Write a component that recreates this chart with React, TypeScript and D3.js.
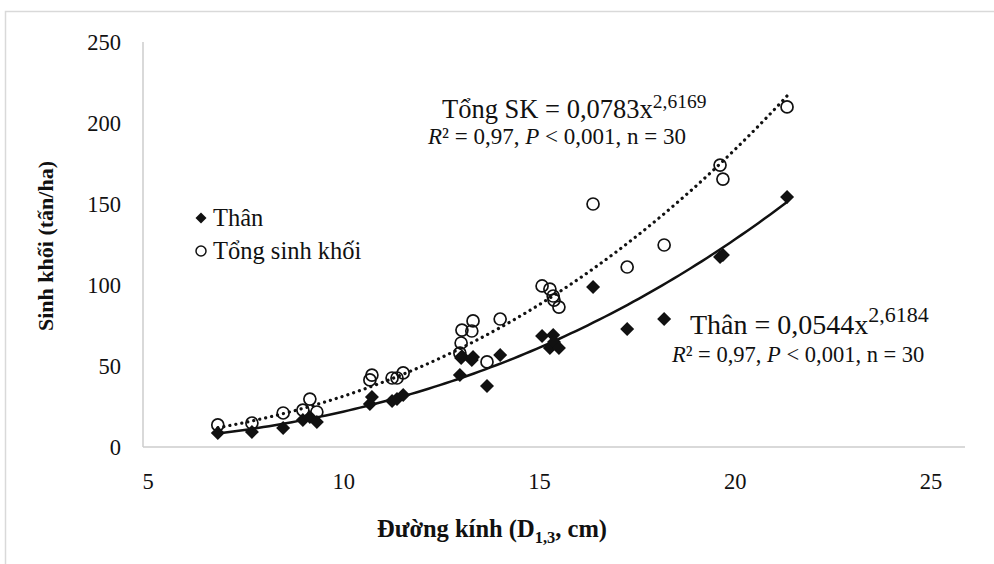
import React from 'react';
import * as d3 from 'd3';

// Đường kính D1,3 (cm) of each plot
const diameters = [
  6.82, 7.65, 8.41, 8.89, 9.06, 9.23, 10.52, 10.57, 11.06, 11.18, 11.33,
  12.71, 12.74, 12.76, 13.0, 13.03, 13.37, 13.69, 14.71, 14.9, 14.98, 15.0,
  15.12, 15.95, 16.78, 17.68, 19.04, 19.11, 20.67,
];

// Sinh khối thân (tấn/ha)
const thanValues = [
  8.6, 9.3, 11.7, 16.7, 18.5, 15.4, 26.5, 30.9, 28.4, 29.6, 32.1,
  44.4, 54.9, 56.0, 53.7, 55.6, 37.7, 56.8, 68.5, 61.1, 69.1, 64.8,
  61.1, 98.8, 72.8, 79.0, 117.3, 118.5, 154.3,
];

// Tổng sinh khối (tấn/ha)
const tongValues = [
  13.6, 14.8, 21.0, 22.8, 29.6, 21.6, 41.4, 44.4, 42.6, 42.6, 45.7,
  58.0, 64.2, 72.2, 71.6, 77.8, 52.5, 79.0, 99.4, 97.5, 93.2, 90.7,
  86.4, 150.0, 111.1, 124.7, 174.0, 165.4, 209.9,
];

const xTicks = [5, 10, 15, 20, 25];
const yTicks = [0, 50, 100, 150, 200, 250];

// power trendlines  y = a * x^b
const thanFit = { a: 0.0544, b: 2.6184 };
const tongFit = { a: 0.0783, b: 2.6169 };

const font = '"Liberation Serif", "Times New Roman", serif';

const diamondPath = (h: number) => `M0,${-h}L${h},0L0,${h}L${-h},0Z`;

export default function App() {
  const width = 994;
  const height = 564;

  // plot area: axis line runs 143..965, 0..250 from 447 up to 42
  const x = d3.scaleLinear().domain([5, 25]).range([143, 965]);
  const y = d3.scaleLinear().domain([0, 250]).range([447, 42]);
  // tick labels sit a bit off the ticks in the original picture
  const xLabel = d3.scaleLinear().domain([5, 25]).range([148, 931]);

  const xMin = d3.min(diameters)!;
  const xMax = d3.max(diameters)!;
  const curveX = d3.range(0, 101).map(i => xMin + (xMax - xMin) * i / 100);

  const line = d3.line<number>().x(d => x(d));

  const thanPath = line.y(d => y(thanFit.a * Math.pow(d, thanFit.b)))(curveX) ?? '';
  const tongPath = line.y(d => y(tongFit.a * Math.pow(d, tongFit.b)))(curveX) ?? '';

  return (
    <svg
      width={width}
      height={height}
      style={{ position: 'absolute', left: 0, top: 0, background: '#fff' }}
      fontFamily={font}
    >
      {/* chart frame */}
      <rect x={5.5} y={11.5} width={1000} height={600} fill="none" stroke="#d9d9d9" strokeWidth={1.5} />

      {/* axes */}
      <line x1={x(5)} x2={x(5)} y1={y(250)} y2={y(0)} stroke="#cccccc" strokeWidth={1.5} />
      <line x1={x(5)} x2={x(25)} y1={y(0)} y2={y(0)} stroke="#cccccc" strokeWidth={1.5} />

      {yTicks.map(t => (
        <text key={t} x={121} y={y(t) + 7.5} textAnchor="end" fontSize={22.5} fill="#111">{t}</text>
      ))}
      {xTicks.map(t => (
        <text key={t} x={xLabel(t)} y={489} textAnchor="middle" fontSize={22.5} fill="#111">{t}</text>
      ))}

      {/* axis titles */}
      <text
        transform={`translate(53,246) rotate(-90)`}
        textAnchor="middle"
        fontSize={22}
        fontWeight="bold"
        fill="#111"
      >Sinh khối (tấn/ha)</text>
      <text x={492} y={537} textAnchor="middle" fontSize={24.5} fontWeight="bold" fill="#111">
        Đường kính (D<tspan fontSize={16.5} dy={6}>1,3</tspan><tspan dy={-6}>, cm)</tspan>
      </text>

      {/* trendlines */}
      <path d={thanPath} fill="none" stroke="#111" strokeWidth={2.5} />
      <path d={tongPath} fill="none" stroke="#111" strokeWidth={3.2} strokeDasharray="0.1 6" strokeLinecap="round" />

      {/* Thân points */}
      {diameters.map((d, i) => (
        <path key={'t' + i} d={diamondPath(7)} transform={`translate(${x(d)},${y(thanValues[i])})`} fill="#111" />
      ))}
      {/* Tổng sinh khối points */}
      {diameters.map((d, i) => (
        <circle key={'s' + i} cx={x(d)} cy={y(tongValues[i])} r={6} fill="none" stroke="#111" strokeWidth={1.7} />
      ))}

      {/* legend */}
      <path d={diamondPath(5.5)} transform="translate(201,218)" fill="#111" />
      <text x={213} y={226} fontSize={24.5} fill="#111">Thân</text>
      <circle cx={201} cy={251} r={5} fill="none" stroke="#111" strokeWidth={1.5} />
      <text x={213} y={259} fontSize={24.5} fill="#111">Tổng sinh khối</text>

      {/* equations */}
      <text x={442} y={118} fontSize={26.5} fill="#111">
        Tổng SK = 0,0783x<tspan fontSize={19.5} dy={-10}>2,6169</tspan>
      </text>
      <text x={428} y={144} fontSize={23} fill="#111">
        <tspan fontStyle="italic">R</tspan>² = 0,97, <tspan fontStyle="italic">P</tspan> &lt; 0,001, n = 30
      </text>

      <text x={690} y={334} fontSize={28} fill="#111">
        Thân = 0,0544x<tspan fontSize={22} dy={-12}>2,6184</tspan>
      </text>
      <text x={672} y={362} fontSize={22.5} fill="#111">
        <tspan fontStyle="italic">R</tspan>² = 0,97, <tspan fontStyle="italic">P</tspan> &lt; 0,001, n = 30
      </text>
    </svg>
  );
}
